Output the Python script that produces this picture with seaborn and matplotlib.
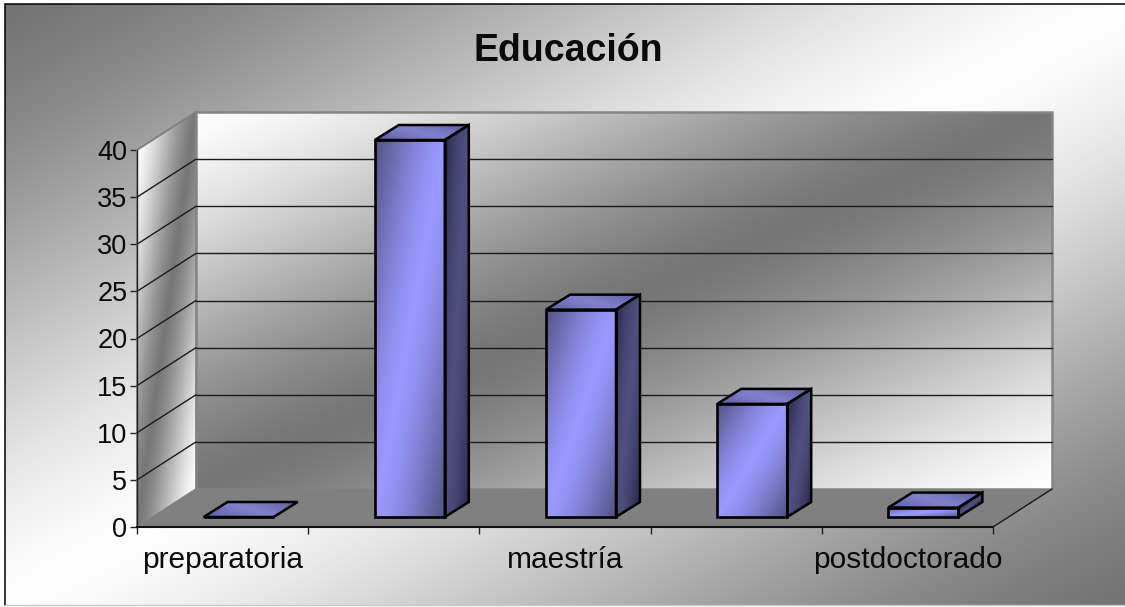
import numpy as np
import pandas as pd
import matplotlib
matplotlib.use("Agg")
import matplotlib.pyplot as plt
from matplotlib.colors import to_rgb
from matplotlib.lines import Line2D
from matplotlib.patches import Polygon
import seaborn as sns

niveles = ["preparatoria", "licenciatura", "maestría", "doctorado", "postdoctorado"]
cantidad = [0, 40, 22, 12, 1]
yticks = [0, 5, 10, 15, 20, 25, 30, 35, 40]
xlabels = ["preparatoria", "", "maestría", "", "postdoctorado"]

W, H = 1125, 607
PX_X = 856 / 5   # pixels per category
PX_Y = 377 / 40  # pixels per unit

# depth of the fake 3d box, in data units
DEPTH_X = 59 / PX_X
DEPTH_Y = 38 / PX_Y
# bars sit a little inside the box
BAR_DX = 16 / PX_X
BAR_DY = 10 / PX_Y
TOP_DX = 24 / PX_X
TOP_DY = 15 / PX_Y
BAR_W = 70 / PX_X


def two_way(t, c0, c1, gamma=1.0):
    # c0 -> c1 -> c0 along t, soft at the turning point
    t = np.clip(t, 0, 1)
    lin = 1 - np.abs(2 * t - 1)
    s = 0.5 * lin + 0.5 * lin * lin * (3 - 2 * lin)
    s = s ** gamma
    c0, c1 = np.array(to_rgb(c0)), np.array(to_rgb(c1))
    return c0 + (c1 - c0) * s[..., None]


def grad_poly(ax, p0, e1, e2, c0, c1, zorder, edge=None, lw=1.8, gamma=1.0):
    # parallelogram p0, p0+e1, p0+e1+e2, p0+e2 with a diagonal gradient
    p0, e1, e2 = np.array(p0, float), np.array(e1, float), np.array(e2, float)
    verts = np.array([p0, p0 + e1, p0 + e1 + e2, p0 + e2])
    x0, x1 = verts[:, 0].min(), verts[:, 0].max()
    y0, y1 = verts[:, 1].min(), verts[:, 1].max()
    xx, yy = np.meshgrid(np.linspace(x0, x1, 300), np.linspace(y0, y1, 300))
    inv = np.linalg.inv(np.array([e1, e2]).T)
    u = inv[0, 0] * (xx - p0[0]) + inv[0, 1] * (yy - p0[1])
    v = inv[1, 0] * (xx - p0[0]) + inv[1, 1] * (yy - p0[1])
    img = two_way((u + v) / 2, c0, c1, gamma)
    im = ax.imshow(img, extent=(x0, x1, y0, y1), origin="lower", aspect="auto",
                   zorder=zorder, interpolation="bilinear")
    poly = Polygon(verts, closed=True, transform=ax.transData, fill=False,
                   edgecolor=edge if edge else "none", linewidth=lw,
                   zorder=zorder + 0.1, clip_on=False, joinstyle="miter")
    ax.add_patch(poly)
    im.set_clip_box(ax.figure.bbox)
    im.set_clip_path(poly)


sns.set_theme(style="white")
plt.rcParams["font.family"] = ["Liberation Sans", "DejaVu Sans"]

fig = plt.figure(figsize=(W / 100, H / 100), dpi=100, facecolor="white")

# background of the whole chart area
bg = fig.add_axes([5 / W, 2 / H, 1 - 5 / W, 1 - 6 / H], zorder=0)
yy, xx = np.mgrid[0:1:300j, 0:1:300j]
bg.imshow(two_way((xx + yy) / 2, "#737373", "#ffffff"), extent=(0, 1, 1, 0), aspect="auto")
bg.axis("off")
fig.add_artist(Line2D([5 / W, 5 / W], [2 / H, 1 - 4 / H], color="black", lw=1.1))
fig.add_artist(Line2D([5 / W, 1], [1 - 4 / H, 1 - 4 / H], color="black", lw=1.1))
fig.add_artist(Line2D([5 / W, 1], [2 / H, 2 / H], color="#c8c8c8", lw=1))

ax = fig.add_axes([137 / W, 1 - 527 / H, 856 / W, 377 / H], zorder=1)
ax.patch.set_alpha(0)

df = pd.DataFrame({"nivel": niveles, "cantidad": cantidad})
sns.barplot(data=df, x="nivel", y="cantidad", width=BAR_W, edgecolor="black",
            linewidth=1.9, ax=ax, zorder=6)

ax.set_xlim(-0.5, 4.5)
ax.set_ylim(0, 40)
ax.autoscale(False)

top_val = yticks[-1]

# back wall
grad_poly(ax, (-0.5 + DEPTH_X, top_val + DEPTH_Y), (5, 0), (0, -top_val),
          "#ffffff", "#757575", 1, edge="#858585", lw=1.8)
# side wall
grad_poly(ax, (-0.5, top_val), (DEPTH_X, DEPTH_Y), (0, -top_val),
          "#ffffff", "#777777", 1, edge="#858585", lw=1.2)

# grid lines on the walls
for v in yticks[1:-1]:
    ax.plot([-0.5 + DEPTH_X, 4.5 + DEPTH_X], [v + DEPTH_Y, v + DEPTH_Y], color="#1a1a1a",
            lw=1.0, zorder=2, clip_on=False)
for v in yticks[1:]:
    ax.plot([-0.5, -0.5 + DEPTH_X], [v, v + DEPTH_Y],
            color="#1a1a1a" if v < top_val else "#808080", lw=1.0, zorder=2, clip_on=False)

# floor
ax.add_patch(Polygon([(-0.5, 0), (4.5, 0), (4.5 + DEPTH_X, DEPTH_Y), (-0.5 + DEPTH_X, DEPTH_Y)],
                     closed=True, facecolor="#808080", edgecolor="none", zorder=3, clip_on=False))
ax.plot([4.5, 4.5 + DEPTH_X], [0, DEPTH_Y], color="#1a1a1a", lw=1.0, zorder=3, clip_on=False)

# bars: move the seaborn faces back into the box, add gradient and the other two faces
for bar, val in zip(ax.patches, cantidad):
    bar.set_x(bar.get_x() + BAR_DX)
    bar.set_y(BAR_DY)
    bar.set_facecolor("none")
    bar.set_clip_on(False)
    x0 = bar.get_x()
    y0 = BAR_DY
    if val > 0:
        grad_poly(ax, (x0, y0 + val), (BAR_W, 0), (0, -val), "#50507f", "#9999ff", 5, gamma=0.7)
        grad_poly(ax, (x0 + BAR_W, y0 + val), (TOP_DX, TOP_DY), (0, -val),
                  "#26264a", "#50507f", 5, edge="black", gamma=0.6)
    grad_poly(ax, (x0, y0 + val), (BAR_W, 0), (TOP_DX, TOP_DY),
              "#5b5b9a", "#7f7fcc", 5, edge="black", gamma=0.7)

ax.set_xlabel("")
ax.set_ylabel("")
ax.set_yticks(yticks)
ax.set_xticks(np.arange(-0.5, 5, 1))
ax.set_xticklabels([])
ax.set_xticks(np.arange(5), labels=xlabels, minor=True)
ax.tick_params(axis="x", which="major", length=5, width=1, color="#222222", bottom=True)
ax.tick_params(axis="x", which="minor", length=0, pad=13.5, labelsize=21.5, labelcolor="#0a0a0a")
ax.tick_params(axis="y", length=5, width=1, color="#222222", left=True, pad=2,
               labelsize=19.5, labelcolor="#0a0a0a")

for side in ["top", "right"]:
    ax.spines[side].set_visible(False)
ax.spines["left"].set_color("#222222")
ax.spines["left"].set_linewidth(1)
ax.spines["left"].set_zorder(7)
ax.spines["bottom"].set_color("#111111")
ax.spines["bottom"].set_linewidth(1.5)
ax.spines["bottom"].set_zorder(7)

fig.text(568 / W, 1 - 51 / H, "Educación", ha="center", va="center",
         fontsize=27, fontweight="bold", color="#0a0a0a")

fig.savefig("out.png", dpi=100)
